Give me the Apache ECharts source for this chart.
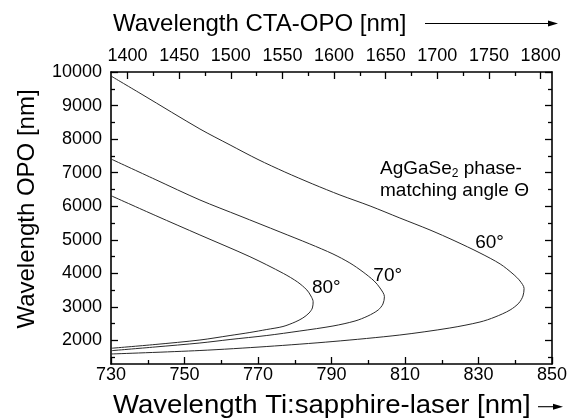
<!DOCTYPE html>
<html>
<head>
<meta charset="utf-8">
<script src="https://cdn.jsdelivr.net/npm/echarts@6/dist/echarts.min.js"></script>
<style>
  html, body { margin: 0; padding: 0; background: #fff; }
  #chart { width: 574px; height: 420px; }
</style>
</head>
<body>
<div id="chart"></div>
<script>
// Axis tick values
const tiMajor = [730, 750, 770, 790, 810, 830, 850];
const tiMinor = [740, 760, 780, 800, 820, 840];
const ctaMajor = [1400, 1450, 1500, 1550, 1600, 1650, 1700, 1750, 1800];
const ctaMinor = [1425, 1475, 1525, 1575, 1625, 1675, 1725, 1775];
const opoMajor = [2000, 3000, 4000, 5000, 6000, 7000, 8000, 9000, 10000];
const opoMinor = [1500, 2500, 3500, 4500, 5500, 6500, 7500, 8500, 9500];

// Phase-matching curves: [Ti:sapphire wavelength nm, OPO wavelength nm]
const angle60 = [
  [730, 9880], [738.7, 9315], [754.2, 8302], [762.4, 7826], [770.0, 7393], [777.3, 7021],
  [784.9, 6663], [792.3, 6336], [800.5, 6008], [808.6, 5650], [816.8, 5293],
  [823.6, 4965], [830.4, 4608], [835.9, 4280], [839.4, 3982], [841.3, 3773],
  [842.4, 3550], [842.1, 3326], [841.0, 3118], [838.6, 2909], [834.5, 2700],
  [830.4, 2551], [822.2, 2373], [808.6, 2164], [790.4, 1970], [772.4, 1821],
  [754.2, 1702], [730, 1598]
];
const angle70 = [
  [730, 7408], [742, 6800], [754.2, 6187], [765.1, 5710], [776.0, 5233], [784.1, 4876],
  [790.4, 4578], [795.0, 4310], [798.6, 4041], [801.6, 3773], [803.2, 3565],
  [804.4, 3306], [804.0, 3088], [802.7, 2909], [799.9, 2730], [796.4, 2581],
  [790.4, 2432], [781.4, 2283], [772.4, 2149], [762.4, 2030], [754.2, 1926],
  [742.0, 1807], [730, 1696]
];
const angle80 = [
  [730, 6315], [742.2, 5719], [754.2, 5144], [767.8, 4497], [776.9, 3999], [780.8, 3740],
  [783.3, 3505], [784.4, 3326], [785.0, 3157], [784.8, 2969], [783.9, 2820],
  [782.2, 2671], [780.1, 2551], [776.8, 2417], [772.4, 2328], [767.8, 2239],
  [762.4, 2149], [754.2, 2015], [742.0, 1881], [730, 1768]
];

// Curve labels placed at data coordinates
const curveLabels = [
  { text: '80°', at: [788.6, 3565] },
  { text: '70°', at: [805.3, 3937] },
  { text: '60°', at: [833.0, 4920] }
];

const FONT = 'Liberation Sans, Arial, Helvetica, sans-serif';
const INK = '#000';

function axisBase(extra) {
  return Object.assign({
    type: 'value',
    splitLine: { show: false },
    axisLine: { show: false },
    axisLabel: { show: false },
    axisTick: { show: true, inside: true, lineStyle: { color: INK, width: 1.3 } }
  }, extra);
}
function mainLine() {
  return { show: true, onZero: false, lineStyle: { color: INK, width: 1.6 } };
}
function labelStyle(values, margin) {
  return { show: true, customValues: values, color: INK, fontSize: 18, fontFamily: FONT,
    margin: margin, formatter: function (v) { return String(v); } };
}
function ticks(values, len) {
  return { show: true, inside: true, length: len, customValues: values, lineStyle: { color: INK, width: 1.3 } };
}

const chart = echarts.init(document.getElementById('chart'), null, { renderer: 'canvas' });

const option = {
  animation: false,
  backgroundColor: '#fff',
  grid: { left: 111, right: 22, top: 72, bottom: 56, containLabel: false },
  xAxis: [
    axisBase({ position: 'bottom', min: 730, max: 850, axisLine: mainLine(),
      axisTick: ticks(tiMajor, 7), axisLabel: labelStyle(tiMajor, 2) }),
    axisBase({ position: 'bottom', min: 730, max: 850, axisTick: ticks(tiMinor, 4) }),
    axisBase({ position: 'top', min: 1384, max: 1811, axisLine: mainLine(),
      axisTick: ticks(ctaMajor, 7), axisLabel: labelStyle(ctaMajor, 7) }),
    axisBase({ position: 'top', min: 1384, max: 1811, axisTick: ticks(ctaMinor, 4) })
  ],
  yAxis: [
    axisBase({ position: 'left', min: 1300, max: 10000, axisLine: mainLine(),
      axisTick: ticks(opoMajor, 7), axisLabel: labelStyle(opoMajor, 9) }),
    axisBase({ position: 'left', min: 1300, max: 10000, axisTick: ticks(opoMinor, 4) }),
    axisBase({ position: 'right', min: 1300, max: 10000, axisLine: mainLine(),
      axisTick: ticks(opoMajor, 7) }),
    axisBase({ position: 'right', min: 1300, max: 10000, axisTick: ticks(opoMinor, 4) })
  ],
  series: [angle60, angle70, angle80].map(function (d) {
    return {
      type: 'line', xAxisIndex: 0, yAxisIndex: 0, data: d,
      smooth: 0.3, showSymbol: false, silent: true,
      lineStyle: { color: '#2a2a2a', width: 1 }
    };
  })
};
chart.setOption(option);

const graphics = [];
curveLabels.forEach(function (l) {
  const p = chart.convertToPixel({ xAxisIndex: 0, yAxisIndex: 0 }, l.at);
  graphics.push({ type: 'text', x: p[0], y: p[1], silent: true,
    style: { text: l.text, fill: INK, font: '19px ' + FONT, textAlign: 'center', textVerticalAlign: 'middle' } });
});

// Crystal note
graphics.push({ type: 'text', x: 380, y: 158, silent: true,
  style: {
    text: '{a|AgGaSe}{s|2}{a| phase-}\n{a|matching angle Θ}',
    fill: INK, textAlign: 'left', textVerticalAlign: 'top',
    rich: {
      a: { fontSize: 19, lineHeight: 22, fontFamily: FONT, fill: INK },
      s: { fontSize: 12, lineHeight: 12, fontFamily: FONT, fill: INK, verticalAlign: 'bottom' }
    }
  } });

// Axis titles
graphics.push({ type: 'text', x: 113, y: 24, silent: true,
  style: { text: 'Wavelength CTA-OPO [nm]', fill: INK, font: '24px ' + FONT, textAlign: 'left', textVerticalAlign: 'middle' } });
graphics.push({ type: 'text', x: 113, y: 406, scaleX: 1.06, silent: true,
  style: { text: 'Wavelength Ti:sapphire-laser [nm]', fill: INK, font: '26px ' + FONT, textAlign: 'left', textVerticalAlign: 'middle' } });
graphics.push({ type: 'text', x: 27, y: 209, rotation: Math.PI / 2, silent: true,
  style: { text: 'Wavelength OPO [nm]', fill: INK, font: '24px ' + FONT, textAlign: 'center', textVerticalAlign: 'middle' } });

// Direction arrows next to the horizontal titles
function arrow(x1, x2, y) {
  graphics.push({ type: 'line', silent: true, shape: { x1: x1, y1: y, x2: x2 - 8, y2: y },
    style: { stroke: INK, lineWidth: 1.1 } });
  graphics.push({ type: 'polygon', silent: true,
    shape: { points: [[x2 - 10, y - 3], [x2, y], [x2 - 10, y + 3]] }, style: { fill: INK } });
}
arrow(425, 558, 23.5);
arrow(538, 563, 406.7);

chart.setOption({ graphic: graphics });
</script>
</body>
</html>
